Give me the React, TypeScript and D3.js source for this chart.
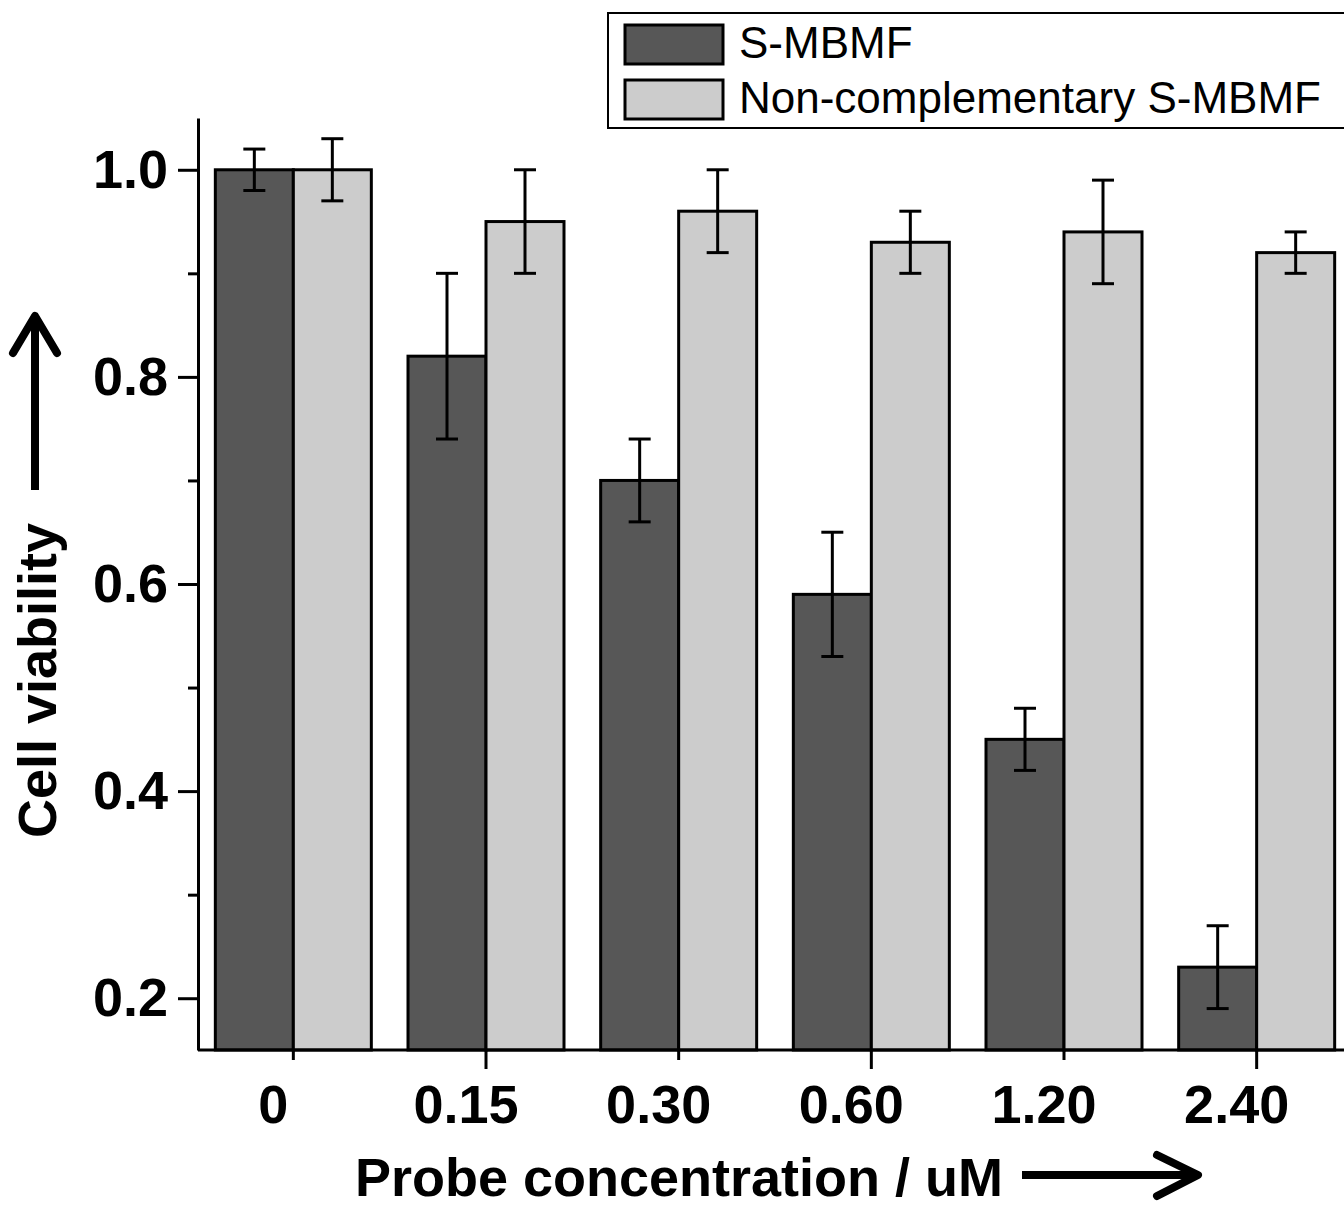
import React, { useEffect, useRef } from "react";
import * as d3 from "d3";

// categories (probe concentration, uM)
const categories = ["0", "0.15", "0.30", "0.60", "1.20", "2.40"];
const seriesNames = ["S-MBMF", "Non-complementary S-MBMF"];
const seriesColors = ["#575757", "#cccccc"];

// mean cell viability and error (+/-)
const smbmfValues = [1.0, 0.82, 0.7, 0.59, 0.45, 0.23];
const smbmfErrors = [0.02, 0.08, 0.04, 0.06, 0.03, 0.04];
const nonCompValues = [1.0, 0.95, 0.96, 0.93, 0.94, 0.92];
const nonCompErrors = [0.03, 0.05, 0.04, 0.03, 0.05, 0.02];

const yMajorTicks = [0.2, 0.4, 0.6, 0.8, 1.0];
const yMinorTicks = [0.3, 0.5, 0.7, 0.9];

const W = 1344;
const H = 1207;
const FONT = "'Liberation Sans', Arial, sans-serif";

const App = () => {
  const svgRef = useRef<SVGSVGElement>(null);

  useEffect(() => {
    const svg = d3.select(svgRef.current);
    svg.selectAll("*").remove();

    const left = 198;
    const bottom = 1050;
    const top = 118;

    // scales
    const y = d3.scaleLinear().domain([0.15, 1.05]).range([bottom, top]);
    const x = d3.scaleBand().domain(categories).range([197, 1353]).padding(0);
    const x1 = d3.scaleBand().domain(seriesNames).range([-78, 78]).padding(0);

    const rows = categories.map((c, i) => ({
      cat: c,
      items: [
        { name: seriesNames[0], v: smbmfValues[i], e: smbmfErrors[i], color: seriesColors[0] },
        { name: seriesNames[1], v: nonCompValues[i], e: nonCompErrors[i], color: seriesColors[1] },
      ],
    }));

    // bars
    const groups = svg
      .append("g")
      .selectAll("g")
      .data(rows)
      .enter()
      .append("g")
      .attr("transform", (d) => `translate(${x(d.cat)! + x.bandwidth() / 2},0)`);

    groups
      .selectAll("rect")
      .data((d) => d.items)
      .enter()
      .append("rect")
      .attr("x", (d) => x1(d.name)!)
      .attr("y", (d) => y(d.v))
      .attr("width", x1.bandwidth())
      .attr("height", (d) => bottom - y(d.v))
      .attr("fill", (d) => d.color)
      .attr("stroke", "#000")
      .attr("stroke-width", 3);

    // error bars
    const err = groups
      .selectAll("g.err")
      .data((d) => d.items)
      .enter()
      .append("g")
      .attr("class", "err")
      .attr("transform", (d) => `translate(${x1(d.name)! + x1.bandwidth() / 2},0)`)
      .attr("stroke", "#000")
      .attr("stroke-width", 3);
    err.append("line").attr("y1", (d) => y(d.v + d.e)).attr("y2", (d) => y(d.v - d.e));
    err.append("line").attr("x1", -11).attr("x2", 11).attr("y1", (d) => y(d.v + d.e)).attr("y2", (d) => y(d.v + d.e));
    err.append("line").attr("x1", -11).attr("x2", 11).attr("y1", (d) => y(d.v - d.e)).attr("y2", (d) => y(d.v - d.e));

    // y axis
    const yAxis = svg
      .append("g")
      .attr("transform", `translate(${left},0)`)
      .call(d3.axisLeft(y).tickValues(yMajorTicks).tickSize(20).tickSizeOuter(0).tickPadding(10).tickFormat(d3.format(".1f")));
    svg
      .append("g")
      .attr("transform", `translate(${left},0)`)
      .call(d3.axisLeft(y).tickValues(yMinorTicks).tickSize(10).tickSizeOuter(0).tickFormat(() => ""))
      .select(".domain")
      .remove();

    // x axis (labels sit a little left of the ticks, as in the original)
    const xAxis = svg
      .append("g")
      .attr("transform", `translate(0,${bottom})`)
      .call(d3.axisBottom(x).tickSizeOuter(0));
    xAxis.selectAll(".tick line").attr("y2", (_d, i) => (i % 2 === 0 ? 10 : 19));
    xAxis.selectAll(".tick text").attr("x", -20).attr("y", 73).attr("dy", 0);
    xAxis.select(".domain").attr("d", `M${left},0H${W}`);

    [yAxis, xAxis].forEach((a) => {
      a.selectAll("path, line").attr("stroke", "#000").attr("stroke-width", 3);
      a.selectAll("text")
        .attr("fill", "#000")
        .style("font-family", FONT)
        .style("font-size", "54px")
        .style("font-weight", "bold");
    });
    svg.selectAll(".tick line").attr("stroke", "#000").attr("stroke-width", 3);

    // axis titles
    svg
      .append("text")
      .attr("x", 355)
      .attr("y", 1196)
      .style("font-family", FONT)
      .style("font-size", "54px")
      .style("font-weight", "bold")
      .text("Probe concentration / uM");
    svg
      .append("text")
      .attr("transform", "translate(56,838) rotate(-90)")
      .style("font-family", FONT)
      .style("font-size", "54px")
      .style("font-weight", "bold")
      .text("Cell viability");

    // arrows
    const arrows = svg
      .append("g")
      .attr("fill", "none")
      .attr("stroke", "#000")
      .attr("stroke-width", 8)
      .attr("stroke-linejoin", "round");
    arrows.append("path").attr("d", "M35,490V316");
    arrows.append("path").attr("d", "M13,353L35,316L57,353").attr("stroke-linecap", "round");
    arrows.append("path").attr("d", "M1022,1175H1198");
    arrows.append("path").attr("d", "M1157,1155L1198,1175L1157,1196").attr("stroke-linecap", "round");

    // legend
    const legend = svg.append("g");
    legend
      .append("rect")
      .attr("x", 608)
      .attr("y", 13)
      .attr("width", 800)
      .attr("height", 115)
      .attr("fill", "#fff")
      .attr("stroke", "#000")
      .attr("stroke-width", 2);
    const li = legend
      .selectAll("g")
      .data(seriesNames)
      .enter()
      .append("g")
      .attr("transform", (_d, i) => `translate(0,${i * 55})`);
    li.append("rect")
      .attr("x", 625)
      .attr("y", 25)
      .attr("width", 98)
      .attr("height", 39)
      .attr("fill", (_d, i) => seriesColors[i])
      .attr("stroke", "#000")
      .attr("stroke-width", 3);
    li.append("text")
      .attr("x", 739)
      .attr("y", 58)
      .style("font-family", FONT)
      .style("font-size", "44px")
      .text((d) => d);
  }, []);

  return (
    <svg
      ref={svgRef}
      width={W}
      height={H}
      style={{ position: "absolute", left: 0, top: 0, background: "#fff" }}
    ></svg>
  );
};

export default App;
